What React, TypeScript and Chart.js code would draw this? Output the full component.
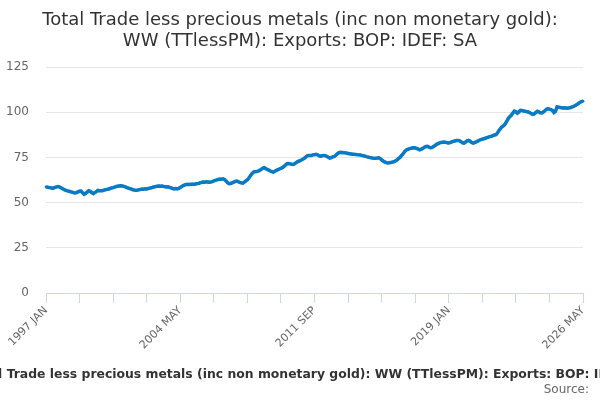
import { useEffect, useRef } from 'react';
import { Chart, registerables, Plugin } from 'chart.js';

Chart.register(...registerables);

const TITLE_LINES: string[] = [
  'Total Trade less precious metals (inc non monetary gold):',
  'WW (TTlessPM): Exports: BOP: IDEF: SA',
];
const SERIES_NAME = 'Total Trade less precious metals (inc non monetary gold): WW (TTlessPM): Exports: BOP: IDEF: SA';
const SOURCE_TEXT = 'Source:';

const MONTHS: string[] = ['JAN', 'FEB', 'MAR', 'APR', 'MAY', 'JUN', 'JUL', 'AUG', 'SEP', 'OCT', 'NOV', 'DEC'];
const START_YEAR = 1997;

const Y_TICKS: number[] = [0, 25, 50, 75, 100, 125];

// monthly index values, 1997 JAN .. 2026 MAY
const EXPORTS_SA: number[] = [
  // 1997
  58.7, 58.5, 58.3, 58.2, 58.0, 58.1, 58.4, 58.7, 58.9, 58.6, 58.1, 57.6,
  // 1998
  57.1, 56.8, 56.5, 56.3, 56.0, 55.8, 55.5, 55.3, 55.5, 55.9, 56.3, 56.4,
  // 1999
  55.4, 54.6, 55.1, 55.8, 56.5, 56.2, 55.6, 55.0, 55.5, 56.1, 56.8, 56.6,
  // 2000
  56.5, 56.6, 56.9, 57.1, 57.3, 57.5, 57.8, 58.1, 58.3, 58.6, 58.9, 59.1,
  // 2001
  59.2, 59.3, 59.2, 59.0, 58.7, 58.3, 58.0, 57.7, 57.4, 57.1, 56.9, 56.8,
  // 2002
  56.9, 57.1, 57.3, 57.5, 57.4, 57.6, 57.5, 57.8, 58.0, 58.2, 58.5, 58.7,
  // 2003
  58.9, 59.1, 59.2, 59.1, 59.2, 59.0, 58.8, 58.6, 58.7, 58.4, 58.1, 57.8,
  // 2004
  57.6, 57.8, 57.6, 57.9, 58.4, 58.9, 59.4, 59.8, 60.0, 60.1, 60.0, 60.1,
  // 2005
  60.2, 60.1, 60.3, 60.5, 60.6, 60.9, 61.2, 61.4, 61.3, 61.5, 61.4, 61.3,
  // 2006
  61.4, 61.6, 62.0, 62.3, 62.6, 62.8, 63.0, 62.9, 63.1, 62.8, 62.0, 61.0,
  // 2007
  60.5, 60.6, 60.9, 61.3, 61.7, 61.9, 61.6, 61.2, 60.9, 60.8, 61.3, 62.0,
  // 2008
  62.6, 63.6, 64.8, 66.0, 66.9, 67.1, 67.2, 67.4, 67.8, 68.4, 69.0, 69.3,
  // 2009
  68.8, 68.4, 68.0, 67.5, 67.1, 66.9, 67.3, 67.8, 68.2, 68.6, 69.0, 69.3,
  // 2010
  70.0, 70.8, 71.5, 71.6, 71.4, 71.2, 71.1, 71.5, 72.1, 72.7, 73.0, 73.4,
  // 2011
  73.8, 74.3, 75.0, 75.8, 76.1, 76.0, 76.1, 76.4, 76.5, 76.7, 76.4, 75.9,
  // 2012
  75.7, 75.9, 76.1, 76.0, 75.6, 75.1, 74.6, 74.9, 75.3, 75.5, 76.2, 77.0,
  // 2013
  77.6, 77.8, 77.7, 77.6, 77.5, 77.4, 77.2, 77.0, 76.9, 76.8, 76.7, 76.6,
  // 2014
  76.5, 76.4, 76.3, 76.1, 75.9, 75.7, 75.4, 75.2, 75.0, 74.8, 74.6, 74.5,
  // 2015
  74.5, 74.6, 74.8, 74.4, 73.6, 73.0, 72.5, 72.1, 71.9, 72.0, 72.2, 72.4,
  // 2016
  72.6, 73.0, 73.5, 74.3, 75.0, 76.0, 77.0, 78.1, 79.0, 79.4, 79.7, 80.0,
  // 2017
  80.2, 80.3, 80.2, 80.0, 79.6, 79.2, 79.5, 80.0, 80.6, 81.0, 81.1, 80.7,
  // 2018
  80.4, 80.5, 81.0, 81.6, 82.2, 82.6, 83.0, 83.3, 83.4, 83.5, 83.3, 83.1,
  // 2019
  83.0, 83.2, 83.6, 83.9, 84.1, 84.3, 84.4, 84.2, 83.7, 83.1, 82.9, 83.5,
  // 2020
  84.2, 84.4, 83.9, 83.2, 82.9, 83.2, 83.6, 84.0, 84.5, 84.8, 85.1, 85.3,
  // 2021
  85.6, 85.9, 86.2, 86.5, 86.7, 87.0, 87.4, 87.6, 88.6, 90.0, 91.0, 92.0,
  // 2022
  92.5, 93.5, 95.0, 96.5, 97.5, 98.3, 99.5, 100.6, 100.2, 99.5, 100.2, 101.0,
  // 2023
  100.9, 100.7, 100.5, 100.3, 100.1, 99.8, 99.3, 98.8, 99.0, 99.8, 100.5, 100.2,
  // 2024
  99.7, 99.6, 100.1, 100.8, 101.6, 101.9, 101.7, 101.4, 101.0, 99.8, 100.5, 103.0,
  // 2025
  102.8, 102.6, 102.4, 102.3, 102.4, 102.3, 102.2, 102.4, 102.6, 102.9, 103.3, 103.7,
  // 2026
  104.2, 104.8, 105.4, 105.9, 106.1,
];

const LABELS: string[] = EXPORTS_SA.map((_, i) =>
  `${START_YEAR + Math.floor(i / 12)} ${MONTHS[i % 12]}`
);

const TICK_EVERY = 22;
const LABEL_EVERY = 88;
const LINE_COLOR = '#0a7bc4';
const FONT = '"DejaVu Sans", sans-serif';

// titles and source line, drawn straight on the canvas
const textPlugin: Plugin<'line'> = {
  id: 'pageText',
  afterDraw(chart) {
    const ctx = chart.ctx;
    ctx.save();
    ctx.textAlign = 'center';
    ctx.textBaseline = 'middle';
    ctx.fillStyle = '#333333';
    ctx.font = `18px ${FONT}`;
    ctx.fillText(TITLE_LINES[0], 300, 20);
    ctx.fillText(TITLE_LINES[1], 300, 41);
    // long series name, wider than the canvas and cut at both ends
    ctx.font = `bold 12.4px ${FONT}`;
    ctx.textAlign = 'left';
    ctx.textBaseline = 'alphabetic';
    ctx.fillText(SERIES_NAME, -31.5, 378);
    ctx.font = `12px ${FONT}`;
    ctx.fillStyle = '#666666';
    ctx.textAlign = 'right';
    ctx.fillText(SOURCE_TEXT, 589, 393);
    ctx.restore();
  },
};

export default function App() {
  const canvasRef = useRef<HTMLCanvasElement | null>(null);

  useEffect(() => {
    document.body.style.margin = '0';
    if (!canvasRef.current) return;

    Chart.defaults.font.family = FONT;

    const chart = new Chart(canvasRef.current, {
      type: 'line',
      data: {
        labels: LABELS,
        datasets: [
          {
            label: SERIES_NAME,
            data: EXPORTS_SA,
            borderColor: LINE_COLOR,
            backgroundColor: LINE_COLOR,
            borderWidth: 3.5,
            pointRadius: 1.4,
            pointBorderWidth: 0,
            pointBackgroundColor: LINE_COLOR,
            tension: 0,
          },
        ],
      },
      options: {
        responsive: true,
        maintainAspectRatio: false,
        animation: false,
        layout: { padding: { left: 0, right: 17, top: 67, bottom: 47 } },
        plugins: {
          legend: { display: false },
          title: { display: false },
          tooltip: { enabled: false },
        },
        scales: {
          x: {
            type: 'category',
            offset: false,
            afterBuildTicks: (scale) => {
              scale.ticks = scale.ticks.filter((t) => t.value % TICK_EVERY === 0);
            },
            afterFit: (scale) => {
              scale.height = 60;
            },
            grid: {
              drawOnChartArea: false,
              drawTicks: true,
              tickLength: 10,
              color: '#ccd6eb',
            },
            border: { display: true, color: '#ccd6eb', width: 1 },
            ticks: {
              autoSkip: false,
              minRotation: 45,
              maxRotation: 45,
              padding: 1,
              color: '#666666',
              font: { size: 11 },
              callback: (value) => {
                const v = Number(value);
                return v % LABEL_EVERY === 0 ? LABELS[v] : '';
              },
            },
          },
          y: {
            min: 0,
            max: 125,
            afterBuildTicks: (scale) => {
              scale.ticks = Y_TICKS.map((v) => ({ value: v }));
            },
            afterFit: (scale) => {
              scale.width = 46;
            },
            grid: { color: '#e6e6e6', drawTicks: false },
            border: { display: false },
            ticks: {
              padding: 17,
              color: '#666666',
              font: { size: 12 },
            },
          },
        },
      },
      plugins: [textPlugin],
    });

    return () => {
      chart.destroy();
    };
  }, []);

  return (
    <div style={{ position: 'relative', width: 600, height: 400 }}>
      <canvas ref={canvasRef} />
    </div>
  );
}
